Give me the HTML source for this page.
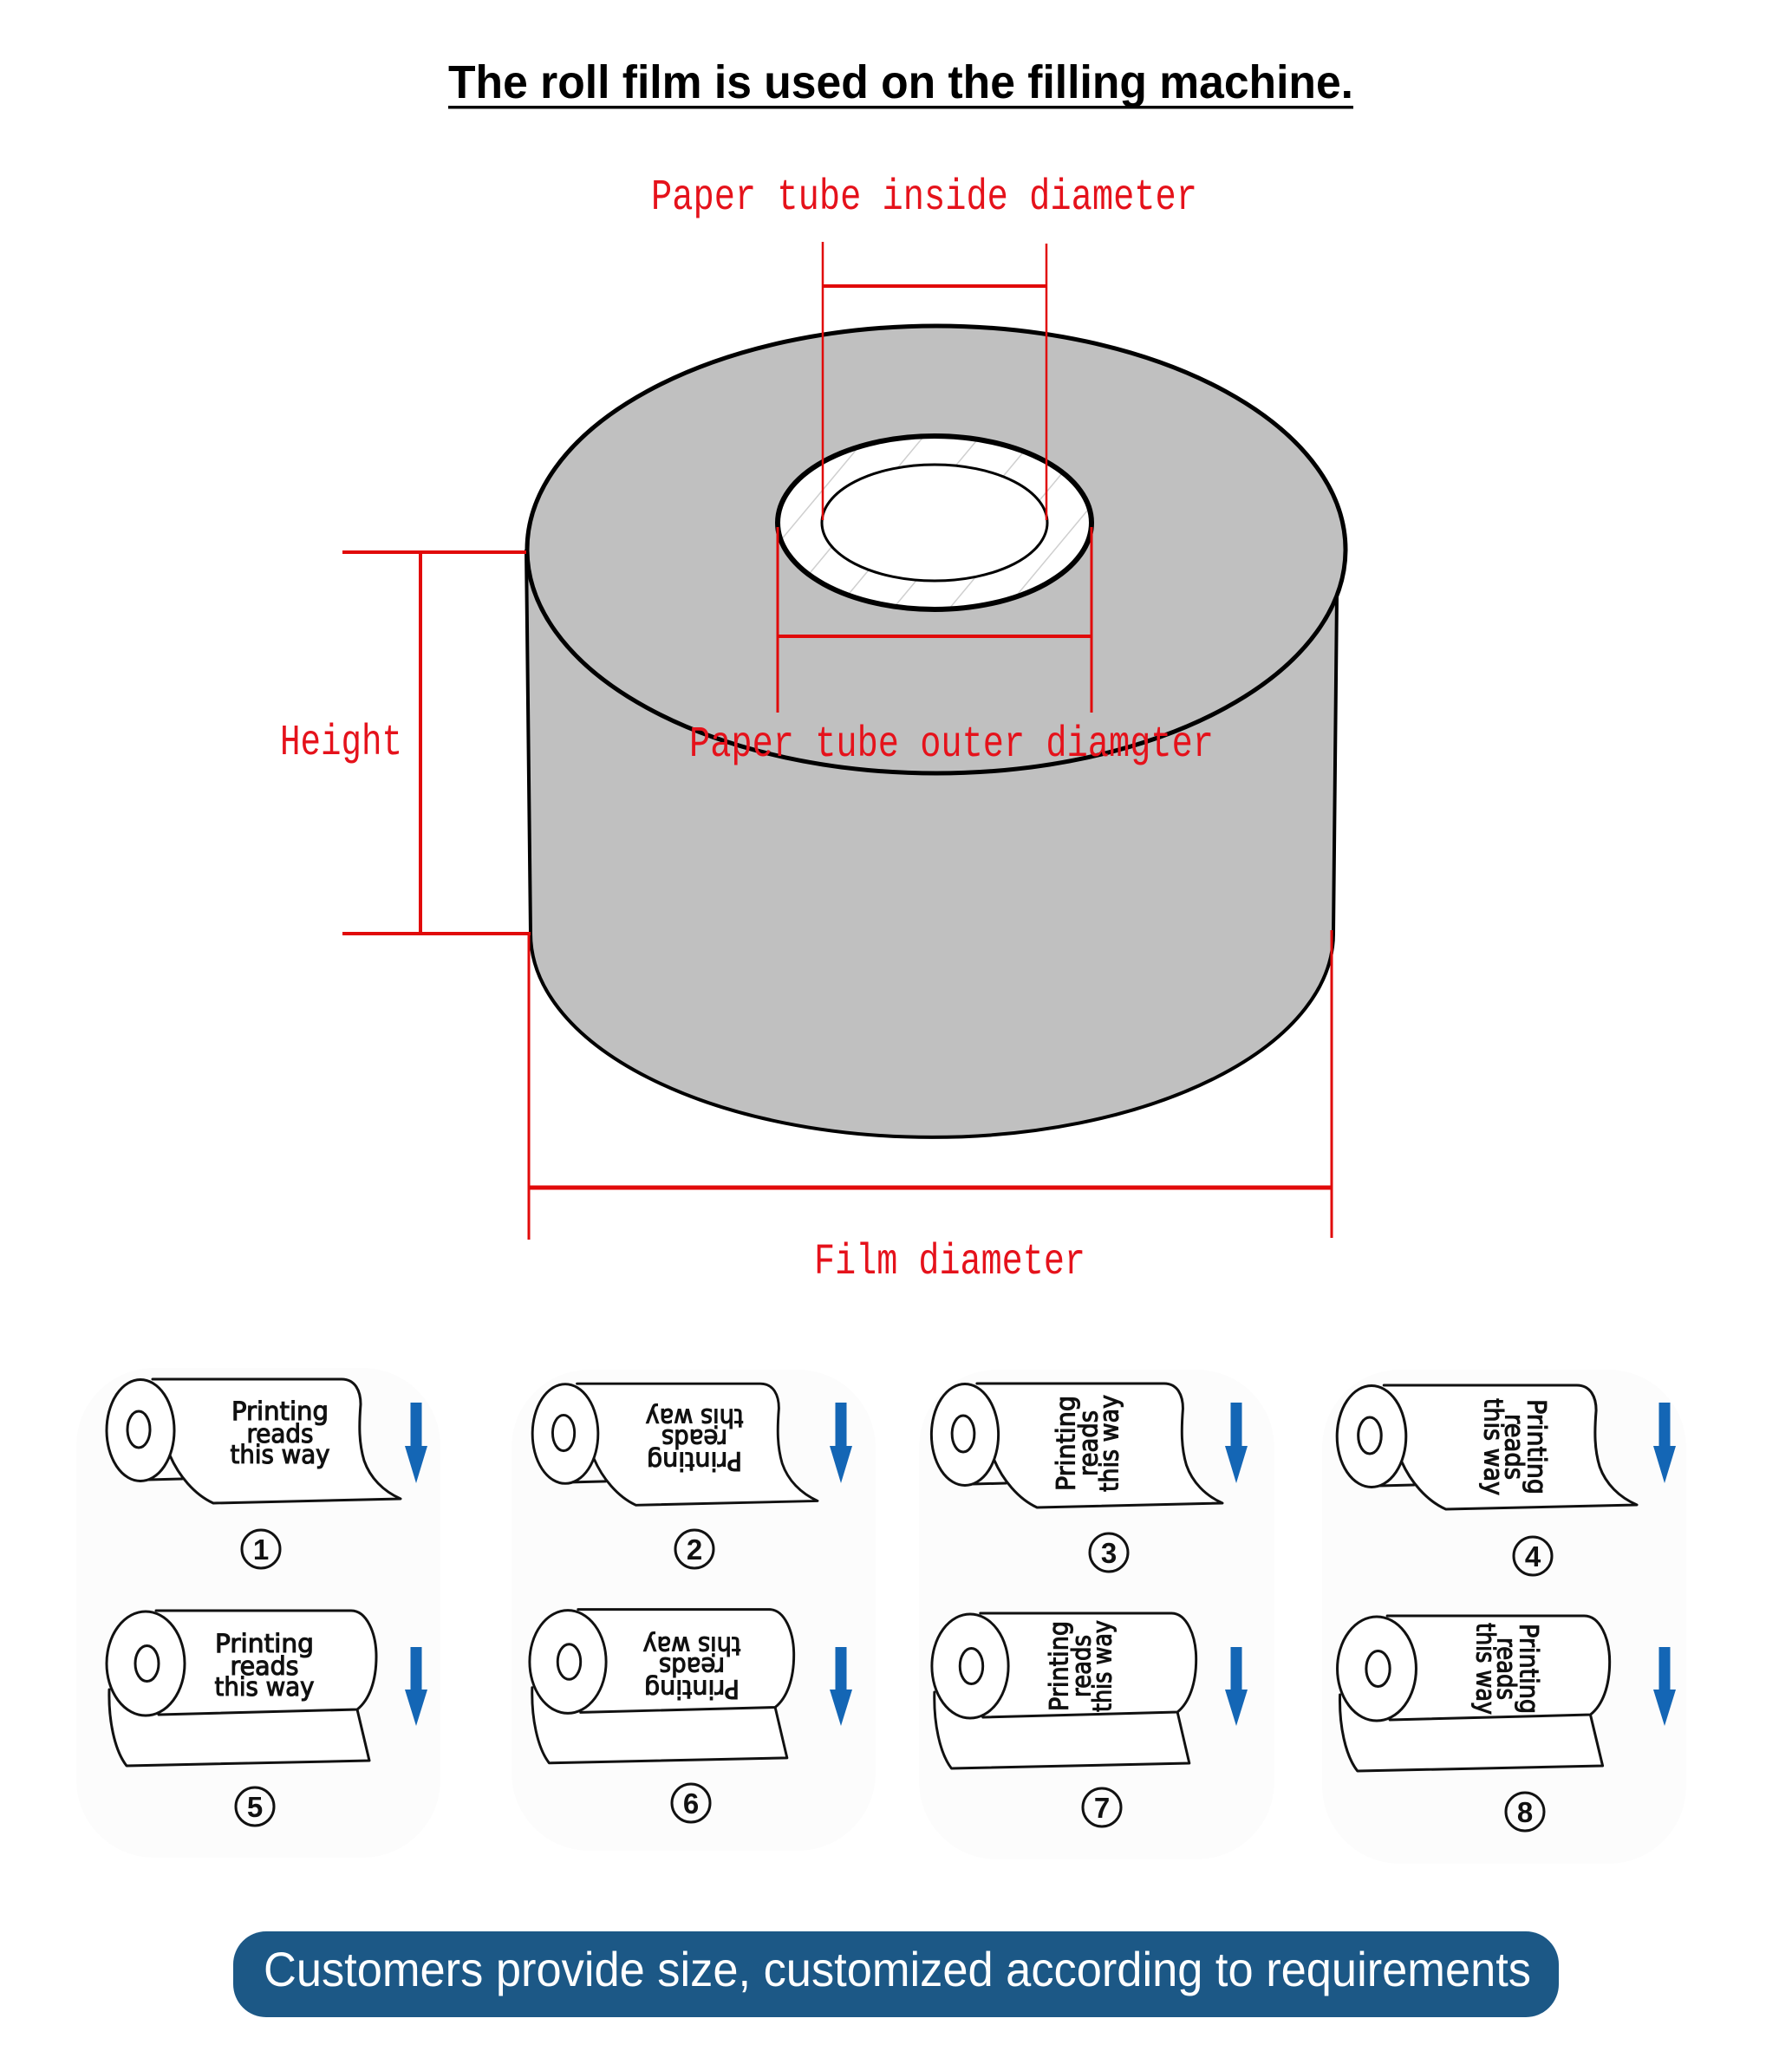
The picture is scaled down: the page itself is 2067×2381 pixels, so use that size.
<!DOCTYPE html>
<html>
<head>
<meta charset="utf-8">
<style>
  html,body{margin:0;padding:0;background:#fff;}
  svg{display:block;}
</style>
</head>
<body>
<svg width="2067" height="2381" viewBox="0 0 2067 2381" xmlns="http://www.w3.org/2000/svg">
  <rect x="0" y="0" width="2067" height="2381" fill="#ffffff"/>

  <!-- Title -->
  <text x="517" y="113" font-family="'Liberation Sans', sans-serif" font-weight="bold" font-size="54" fill="#000" textLength="1044" lengthAdjust="spacingAndGlyphs">The roll film is used on the filling machine.</text>
  <rect x="517" y="122" width="1044" height="3.5" fill="#000"/>

  <!-- Main roll body -->
  <path d="M607,634 L612,1077 A463,235 0 0 0 1538,1077 L1542,687 Z" fill="#c0c0c0" stroke="none"/>
  <path d="M607,634 L612,1077 A463,235 0 0 0 1538,1077 L1542,687" fill="none" stroke="#000" stroke-width="4"/>
  <!-- Top face -->
  <ellipse cx="1080" cy="634" rx="472" ry="258" fill="#c0c0c0" stroke="#000" stroke-width="5"/>

  <!-- Paper tube -->
  <defs>
    <clipPath id="tubeClip">
      <ellipse cx="1078" cy="603" rx="181" ry="100"/>
    </clipPath>
  </defs>
  <ellipse cx="1078" cy="603" rx="181" ry="100" fill="#ffffff"/>
  <g clip-path="url(#tubeClip)" stroke="#cfcfcf" stroke-width="1.5">
    <line x1="820" y1="720" x2="1010" y2="492"/>
    <line x1="885" y1="720" x2="1075" y2="492"/>
    <line x1="950" y1="720" x2="1140" y2="492"/>
    <line x1="1015" y1="720" x2="1205" y2="492"/>
    <line x1="1080" y1="720" x2="1270" y2="492"/>
    <line x1="1145" y1="720" x2="1335" y2="492"/>
    <line x1="1210" y1="720" x2="1400" y2="492"/>
    <line x1="755" y1="720" x2="945" y2="492"/>
  </g>
  <ellipse cx="1078" cy="603" rx="181" ry="100" fill="none" stroke="#000" stroke-width="6"/>
  <ellipse cx="1078" cy="603" rx="130" ry="67" fill="#ffffff" stroke="#000" stroke-width="3"/>

  <!-- Red dimension lines -->
  <g stroke="#e10a0a" fill="none">
    <line x1="949" y1="279" x2="949" y2="600" stroke-width="2.5"/>
    <line x1="1207" y1="281" x2="1207" y2="600" stroke-width="2.5"/>
    <line x1="949" y1="330" x2="1207" y2="330" stroke-width="4"/>
    <line x1="897" y1="608" x2="897" y2="822" stroke-width="3"/>
    <line x1="1259" y1="608" x2="1259" y2="822" stroke-width="3"/>
    <line x1="897" y1="734" x2="1259" y2="734" stroke-width="4"/>
    <line x1="395" y1="637" x2="607" y2="637" stroke-width="4"/>
    <line x1="485" y1="637" x2="485" y2="1075" stroke-width="4"/>
    <line x1="395" y1="1077" x2="612" y2="1077" stroke-width="4"/>
    <line x1="610" y1="1075" x2="610" y2="1430" stroke-width="3"/>
    <line x1="1536" y1="1073" x2="1536" y2="1428" stroke-width="3"/>
    <line x1="610" y1="1370" x2="1536" y2="1370" stroke-width="5"/>
  </g>

  <!-- Red labels -->
  <g font-family="'Liberation Mono', monospace" font-size="50" fill="#e5121b">
    <text x="751" y="241" textLength="630" lengthAdjust="spacingAndGlyphs">Paper tube inside diameter</text>
    <text x="795" y="872" textLength="605" lengthAdjust="spacingAndGlyphs">Paper tube outer diamgter</text>
    <text x="323" y="870" textLength="141" lengthAdjust="spacingAndGlyphs">Height</text>
    <text x="939" y="1469" textLength="313" lengthAdjust="spacingAndGlyphs">Film diameter</text>
  </g>

  <!-- faint column backgrounds -->
  <g fill="#fcfcfc">
    <rect x="88" y="1578" width="420" height="565" rx="90"/>
    <rect x="590" y="1580" width="420" height="555" rx="90"/>
    <rect x="1060" y="1580" width="410" height="565" rx="90"/>
    <rect x="1525" y="1580" width="420" height="570" rx="90"/>
  </g>

  <!-- ===== Top row rolls (type A) ===== -->
  <g stroke="#111" stroke-width="3" stroke-linejoin="round" stroke-linecap="round">
    <g transform="translate(162,1650)">
      <path d="M14,-59 L232,-59 C248,-59 254,-45 254,-30 C252,-5 252,15 258,35 C265,55 280,70 300,79 L84,84 C62,74 44,52 34,29" fill="#fff"/>
      <path d="M8,57 L48,56" fill="none"/>
      <ellipse cx="0" cy="0" rx="39" ry="58.5" fill="#fff"/>
      <ellipse cx="-2" cy="-1" rx="13" ry="21" fill="none"/>
    </g>
    <g transform="translate(652,1654) scale(0.97,0.98)">
      <path d="M14,-59 L232,-59 C248,-59 254,-45 254,-30 C252,-5 252,15 258,35 C265,55 280,70 300,79 L84,84 C62,74 44,52 34,29" fill="#fff"/>
      <path d="M8,57 L48,56" fill="none"/>
      <ellipse cx="0" cy="0" rx="39" ry="58.5" fill="#fff"/>
      <ellipse cx="-2" cy="-1" rx="13" ry="21" fill="none"/>
    </g>
    <g transform="translate(1113,1655) scale(0.99,1)">
      <path d="M14,-59 L232,-59 C248,-59 254,-45 254,-30 C252,-5 252,15 258,35 C265,55 280,70 300,79 L84,84 C62,74 44,52 34,29" fill="#fff"/>
      <path d="M8,57 L48,56" fill="none"/>
      <ellipse cx="0" cy="0" rx="39" ry="58.5" fill="#fff"/>
      <ellipse cx="-2" cy="-1" rx="13" ry="21" fill="none"/>
    </g>
    <g transform="translate(1582,1657) scale(1.02,1)">
      <path d="M14,-59 L232,-59 C248,-59 254,-45 254,-30 C252,-5 252,15 258,35 C265,55 280,70 300,79 L84,84 C62,74 44,52 34,29" fill="#fff"/>
      <path d="M8,57 L48,56" fill="none"/>
      <ellipse cx="0" cy="0" rx="39" ry="58.5" fill="#fff"/>
      <ellipse cx="-2" cy="-1" rx="13" ry="21" fill="none"/>
    </g>

    <!-- ===== Bottom row rolls (type B) ===== -->
    <g transform="translate(168,1919)">
      <path d="M244,53 L258,112 L-22,118 C-36,100 -43,65 -42,30 L15,59 Z" fill="#fff" stroke="none"/>
      <path d="M244,53 L258,112 L-22,118 C-36,100 -43,65 -42,30" fill="none"/>
      <path d="M12,-61 L237,-61 C255,-61 266,-35 266,-8 C266,20 258,42 244,53 L15,59" fill="#fff"/>
      <ellipse cx="0" cy="0" rx="45" ry="60" fill="#fff"/>
      <ellipse cx="1.5" cy="0" rx="13.5" ry="20.5" fill="none"/>
    </g>
    <g transform="translate(655,1917) scale(0.98,0.99)">
      <path d="M244,53 L258,112 L-22,118 C-36,100 -43,65 -42,30 L15,59 Z" fill="#fff" stroke="none"/>
      <path d="M244,53 L258,112 L-22,118 C-36,100 -43,65 -42,30" fill="none"/>
      <path d="M12,-61 L237,-61 C255,-61 266,-35 266,-8 C266,20 258,42 244,53 L15,59" fill="#fff"/>
      <ellipse cx="0" cy="0" rx="45" ry="60" fill="#fff"/>
      <ellipse cx="1.5" cy="0" rx="13.5" ry="20.5" fill="none"/>
    </g>
    <g transform="translate(1119,1922) scale(0.98,1)">
      <path d="M244,53 L258,112 L-22,118 C-36,100 -43,65 -42,30 L15,59 Z" fill="#fff" stroke="none"/>
      <path d="M244,53 L258,112 L-22,118 C-36,100 -43,65 -42,30" fill="none"/>
      <path d="M12,-61 L237,-61 C255,-61 266,-35 266,-8 C266,20 258,42 244,53 L15,59" fill="#fff"/>
      <ellipse cx="0" cy="0" rx="45" ry="60" fill="#fff"/>
      <ellipse cx="1.5" cy="0" rx="13.5" ry="20.5" fill="none"/>
    </g>
    <g transform="translate(1588,1925) scale(1.01,1)">
      <path d="M244,53 L258,112 L-22,118 C-36,100 -43,65 -42,30 L15,59 Z" fill="#fff" stroke="none"/>
      <path d="M244,53 L258,112 L-22,118 C-36,100 -43,65 -42,30" fill="none"/>
      <path d="M12,-61 L237,-61 C255,-61 266,-35 266,-8 C266,20 258,42 244,53 L15,59" fill="#fff"/>
      <ellipse cx="0" cy="0" rx="45" ry="60" fill="#fff"/>
      <ellipse cx="1.5" cy="0" rx="13.5" ry="20.5" fill="none"/>
    </g>
  </g>

  <!-- Roll texts -->
  <g font-family="'DejaVu Sans', 'Liberation Sans', sans-serif" font-size="29" fill="#111" stroke="#111" stroke-width="1.1" text-anchor="middle">
    <g transform="translate(323,1656.5)">
      <text x="0" y="-18.5" textLength="112" lengthAdjust="spacingAndGlyphs">Printing</text>
      <text x="0" y="7.5" textLength="77" lengthAdjust="spacingAndGlyphs">reads</text>
      <text x="0" y="31.5" textLength="115" lengthAdjust="spacingAndGlyphs">this way</text>
    </g>
    <g transform="translate(801,1657) rotate(180)">
      <text x="0" y="-18.5" textLength="110" lengthAdjust="spacingAndGlyphs">Printing</text>
      <text x="0" y="7.5" textLength="76" lengthAdjust="spacingAndGlyphs">reads</text>
      <text x="0" y="31.5" textLength="113" lengthAdjust="spacingAndGlyphs">this way</text>
    </g>
    <g transform="translate(1258,1665) rotate(-90)">
      <text x="0" y="-18.5" textLength="110" lengthAdjust="spacingAndGlyphs">Printing</text>
      <text x="0" y="7.5" textLength="76" lengthAdjust="spacingAndGlyphs">reads</text>
      <text x="0" y="31.5" textLength="112" lengthAdjust="spacingAndGlyphs">this way</text>
    </g>
    <g transform="translate(1744,1669) rotate(90)">
      <text x="0" y="-18.5" textLength="110" lengthAdjust="spacingAndGlyphs">Printing</text>
      <text x="0" y="7.5" textLength="76" lengthAdjust="spacingAndGlyphs">reads</text>
      <text x="0" y="31.5" textLength="112" lengthAdjust="spacingAndGlyphs">this way</text>
    </g>

    <g transform="translate(305,1924.5)">
      <text x="0" y="-18.5" textLength="114" lengthAdjust="spacingAndGlyphs">Printing</text>
      <text x="0" y="7.5" textLength="79" lengthAdjust="spacingAndGlyphs">reads</text>
      <text x="0" y="31.5" textLength="115" lengthAdjust="spacingAndGlyphs">this way</text>
    </g>
    <g transform="translate(798,1920) rotate(180)">
      <text x="0" y="-18.5" textLength="110" lengthAdjust="spacingAndGlyphs">Printing</text>
      <text x="0" y="7.5" textLength="76" lengthAdjust="spacingAndGlyphs">reads</text>
      <text x="0" y="31.5" textLength="113" lengthAdjust="spacingAndGlyphs">this way</text>
    </g>
    <g transform="translate(1250,1922) rotate(-90)">
      <text x="0" y="-18.5" textLength="104" lengthAdjust="spacingAndGlyphs">Printing</text>
      <text x="0" y="7.5" textLength="72" lengthAdjust="spacingAndGlyphs">reads</text>
      <text x="0" y="31.5" textLength="106" lengthAdjust="spacingAndGlyphs">this way</text>
    </g>
    <g transform="translate(1735,1925) rotate(90)">
      <text x="0" y="-18.5" textLength="104" lengthAdjust="spacingAndGlyphs">Printing</text>
      <text x="0" y="7.5" textLength="72" lengthAdjust="spacingAndGlyphs">reads</text>
      <text x="0" y="31.5" textLength="106" lengthAdjust="spacingAndGlyphs">this way</text>
    </g>
  </g>

  <!-- Blue arrows -->
  <g fill="#1466b5">
    <path d="M473.5,1618 L486.5,1618 L486.5,1668 L493,1668 L480,1711 L467,1668 L473.5,1668 Z"/>
    <path d="M963.5,1618 L976.5,1618 L976.5,1668 L983,1668 L970,1711 L957,1668 L963.5,1668 Z"/>
    <path d="M1419.5,1618 L1432.5,1618 L1432.5,1668 L1439,1668 L1426,1711 L1413,1668 L1419.5,1668 Z"/>
    <path d="M1913.5,1618 L1926.5,1618 L1926.5,1668 L1933,1668 L1920,1711 L1907,1668 L1913.5,1668 Z"/>
    <path d="M473.5,1900 L486.5,1900 L486.5,1949 L493,1949 L480,1991 L467,1949 L473.5,1949 Z"/>
    <path d="M963.5,1900 L976.5,1900 L976.5,1949 L983,1949 L970,1991 L957,1949 L963.5,1949 Z"/>
    <path d="M1419.5,1900 L1432.5,1900 L1432.5,1949 L1439,1949 L1426,1991 L1413,1949 L1419.5,1949 Z"/>
    <path d="M1913.5,1900 L1926.5,1900 L1926.5,1949 L1933,1949 L1920,1991 L1907,1949 L1913.5,1949 Z"/>
  </g>

  <!-- Circled numbers -->
  <g fill="none" stroke="#111" stroke-width="3">
    <circle cx="301" cy="1787" r="22"/>
    <circle cx="801" cy="1787" r="22"/>
    <circle cx="1279" cy="1791" r="22"/>
    <circle cx="1768" cy="1795" r="22"/>
    <circle cx="294" cy="2084" r="22"/>
    <circle cx="797" cy="2080" r="22"/>
    <circle cx="1271" cy="2085" r="22"/>
    <circle cx="1759" cy="2090" r="22"/>
  </g>
  <g font-family="'Liberation Sans', sans-serif" font-weight="bold" font-size="33" fill="#111" text-anchor="middle">
    <text x="301" y="1799">1</text>
    <text x="801" y="1799">2</text>
    <text x="1279" y="1803">3</text>
    <text x="1768" y="1807">4</text>
    <text x="294" y="2096">5</text>
    <text x="797" y="2092">6</text>
    <text x="1271" y="2097">7</text>
    <text x="1759" y="2102">8</text>
  </g>

  <!-- Banner -->
  <rect x="269" y="2228" width="1529" height="99" rx="38" ry="38" fill="#1c5886"/>
  <text x="304" y="2291" font-family="'Liberation Sans', sans-serif" font-size="56" fill="#ffffff" textLength="1462" lengthAdjust="spacingAndGlyphs">Customers provide size, customized according to requirements</text>
</svg>
</body>
</html>
